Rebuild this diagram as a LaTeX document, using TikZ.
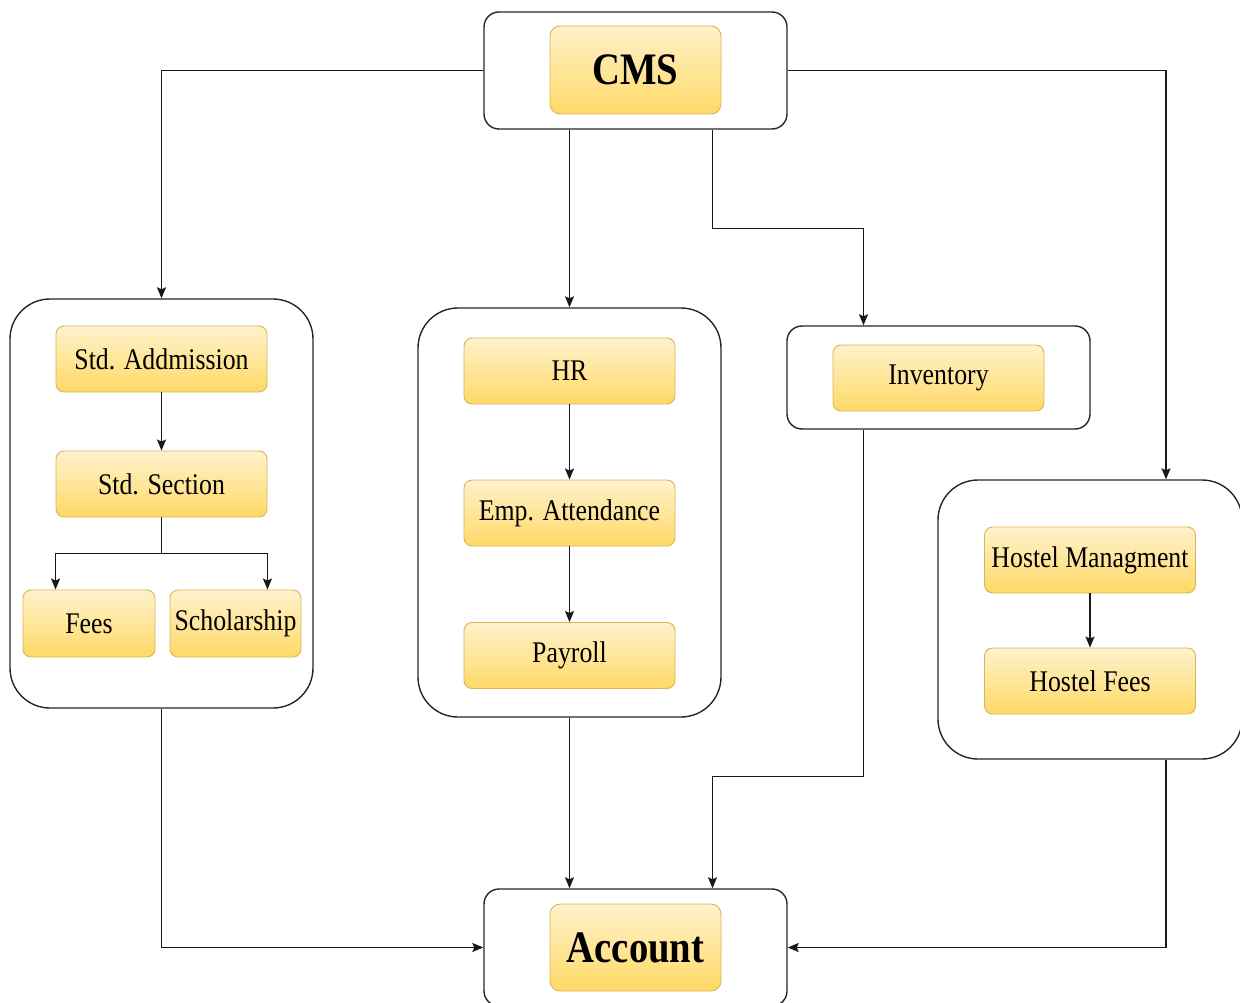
\documentclass[tikz,border=0pt]{standalone}
\usepackage{fontspec}
\setmainfont{Liberation Serif}[FakeStretch=0.86]
\usetikzlibrary{arrows.meta}

\definecolor{yeltop}{HTML}{FFF2CC}
\definecolor{yelbot}{HTML}{FFD966}
\definecolor{yelline}{HTML}{D6B656}

\tikzset{
  grp/.style={draw=black!85, line width=1.4pt, rounded corners=40pt, inner sep=0pt},
  smallgrp/.style={grp, rounded corners=15pt},
  item/.style={draw=yelline, line width=0.9pt, rounded corners=8pt, top color=yeltop, bottom color=yelbot,
    minimum width=211pt, minimum height=66pt, inner sep=0pt, font=\fontsize{30}{34}\selectfont},
  mainitem/.style={item, minimum width=171pt, minimum height=88pt, rounded corners=10pt,
    font=\fontsize{45}{50}\selectfont\bfseries},
  arr/.style={-{Stealth[length=11pt,width=9pt,inset=2pt]}, draw=black!90, line width=1.4pt},
  ln/.style={draw=black!90, line width=1.4pt}
}

\begin{document}
\begin{tikzpicture}[x=1pt, y=-1pt]
	\useasboundingbox (0,0) rectangle (1240,1003);

	% Groups:
	\node[smallgrp, minimum width=303pt, minimum height=117pt] (cmsgrp) at (635.5, 70.5) {};
	\node[grp, minimum width=303pt, minimum height=409pt] (stdgrp) at (161.5, 503.5) {};
	\node[grp, minimum width=303pt, minimum height=409pt] (hrgrp) at (569.5, 512.5) {};
	\node[smallgrp, minimum width=303pt, minimum height=103pt] (invgrp) at (938.5, 377.5) {};
	\node[grp, minimum width=304pt, minimum height=279pt] (hostgrp) at (1090, 619.5) {};
	\node[smallgrp, minimum width=303pt, minimum height=117pt] (accgrp) at (635.5, 947.5) {};

	% Boxes:
	\node[mainitem] (cms) at (635.5, 70) {CMS};
	\node[item] (adm) at (161.5, 359) {Std. Addmission};
	\node[item] (sec) at (161.5, 484) {Std. Section};
	\node[item, minimum width=132pt, minimum height=67pt] (fees) at (89, 623.5) {Fees};
	\node[item, minimum width=131pt, minimum height=67pt] (schol) at (235.5, 623.5) {Scholarship};
	\node[item] (hr) at (569.5, 371) {HR};
	\node[item] (emp) at (569.5, 513) {Emp. Attendance};
	\node[item] (pay) at (569.5, 655.5) {Payroll};
	\node[item] (inv) at (938.5, 378) {Inventory};
	\node[item] (hman) at (1090, 560) {Hostel Managment};
	\node[item] (hfees) at (1090, 681) {Hostel Fees};
	\node[mainitem, minimum height=87pt] (acc) at (635.5, 947.5) {Account};

	% Lines inside groups:
	\draw[arr] (adm) -- (sec);
	\draw[ln] (sec.south) -- ++(0, 36) coordinate (fork);
	\draw[arr] (fork) -| (fees.north -| sec.west);
	\draw[arr] (fork) -| (schol.north -| sec.east);
	\draw[arr] (hr) -- (emp);
	\draw[arr] (emp) -- (pay);
	\draw[arr] (hman) -- (hfees);

	% Lines from CMS:
	\draw[arr] (cmsgrp.west) -| (stdgrp.north);
	\draw[arr] (cmsgrp.south -| hrgrp.north) -- (hrgrp.north);
	\draw[arr] ([xshift=77]cmsgrp.south) -- ++(0, 99) -| ([xshift=-75]invgrp.north);
	\draw[arr] (cmsgrp.east) -| ([xshift=76]hostgrp.north);

	% Lines to Account:
	\draw[arr] (stdgrp.south) |- (accgrp.west);
	\draw[arr] (hrgrp.south) -- (hrgrp.south |- accgrp.north);
	\draw[arr] ([xshift=-75]invgrp.south) -- ++(0, 347) -| ([xshift=77]accgrp.north);
	\draw[arr] ([xshift=76]hostgrp.south) |- (accgrp.east);

\end{tikzpicture}
\end{document}
